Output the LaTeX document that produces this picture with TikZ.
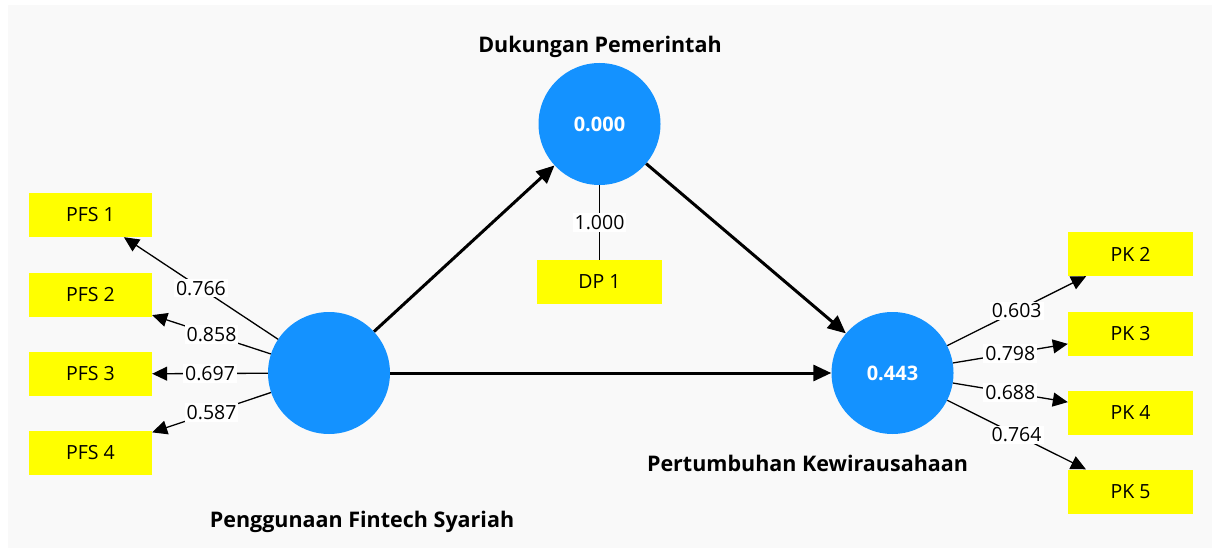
\documentclass[tikz,border=0pt]{standalone}
\usepackage{fontspec}
\setmainfont{Open Sans}
\usetikzlibrary{arrows.meta}
\definecolor{lvblue}{RGB}{20,146,255}
\definecolor{bggray}{RGB}{249,249,249}
\definecolor{indyellow}{RGB}{255,255,0}
\tikzset{
  lv/.style={circle,fill=lvblue,minimum size=122pt,inner sep=0pt,text=white,font=\bfseries\fontsize{20}{24}\selectfont},
  ind/.style={rectangle,fill=indyellow,minimum width=124pt,minimum height=44pt,inner sep=0pt,font=\fontsize{19.5}{23}\selectfont},
  ttl/.style={font=\bfseries\fontsize{21.5}{25}\selectfont,anchor=base,inner sep=0pt},
  wt/.style={fill=white,inner sep=2pt,font=\fontsize{19.5}{23}\selectfont},
  load/.style={line width=1.3pt,-{Triangle[length=15pt,width=14pt]}},
  plain/.style={line width=1.3pt},
  path/.style={line width=3pt,-{Triangle[length=18pt,width=16pt]}}
}
\begin{document}
\begin{tikzpicture}[x=1pt,y=-1pt]
\useasboundingbox (0,0) rectangle (1212,548);
\fill[bggray] (8,5) rectangle (1212,548);
% latent variables
\node[lv] (pfs) at (329,373) {};
\node[lv] (dp) at (599.5,124) {0.000};
\node[lv] (pk) at (892.5,373) {0.443};
% titles
\node[ttl] (tdp) at (600,53) {Dukungan Pemerintah};
\node[ttl] (tpk) at (807.5,471) {Pertumbuhan Kewirausahaan};
\node[ttl] (tpfs) at (362,527) {Penggunaan Fintech Syariah};
% indicators
\node[ind,minimum width=123pt] (pfs1) at (90.5,215) {PFS 1};
\node[ind,minimum width=123pt] (pfs2) at (90.5,295) {PFS 2};
\node[ind,minimum width=123pt] (pfs3) at (90.5,374) {PFS 3};
\node[ind,minimum width=123pt] (pfs4) at (90.5,453) {PFS 4};
\node[ind,minimum width=125pt] (dp1) at (599.5,282) {DP 1};
\node[ind,minimum width=125pt] (pk2) at (1130.5,254) {PK 2};
\node[ind,minimum width=125pt] (pk3) at (1130.5,333.5) {PK 3};
\node[ind,minimum width=125pt] (pk4) at (1130.5,412.5) {PK 4};
\node[ind,minimum width=125pt] (pk5) at (1130.5,491.5) {PK 5};
% structural paths
\draw[path] (pfs) -- (dp);
\draw[path] (pfs) -- (pk);
\draw[path] (dp) -- (pk);
% outer loadings
\draw[load] (pfs) -- (pfs1) node[wt,midway] {0.766};
\draw[load] (pfs) -- (pfs2) node[wt,midway] {0.858};
\draw[load] (pfs) -- (pfs3) node[wt,midway] {0.697};
\draw[load] (pfs) -- (pfs4) node[wt,midway] {0.587};
\draw[plain] (dp) -- (dp1) node[wt,midway] {1.000};
\draw[load] (pk) -- (pk2) node[wt,midway] {0.603};
\draw[load] (pk) -- (pk3) node[wt,midway] {0.798};
\draw[load] (pk) -- (pk4) node[wt,midway] {0.688};
\draw[load] (pk) -- (pk5) node[wt,midway] {0.764};
\end{tikzpicture}
\end{document}
